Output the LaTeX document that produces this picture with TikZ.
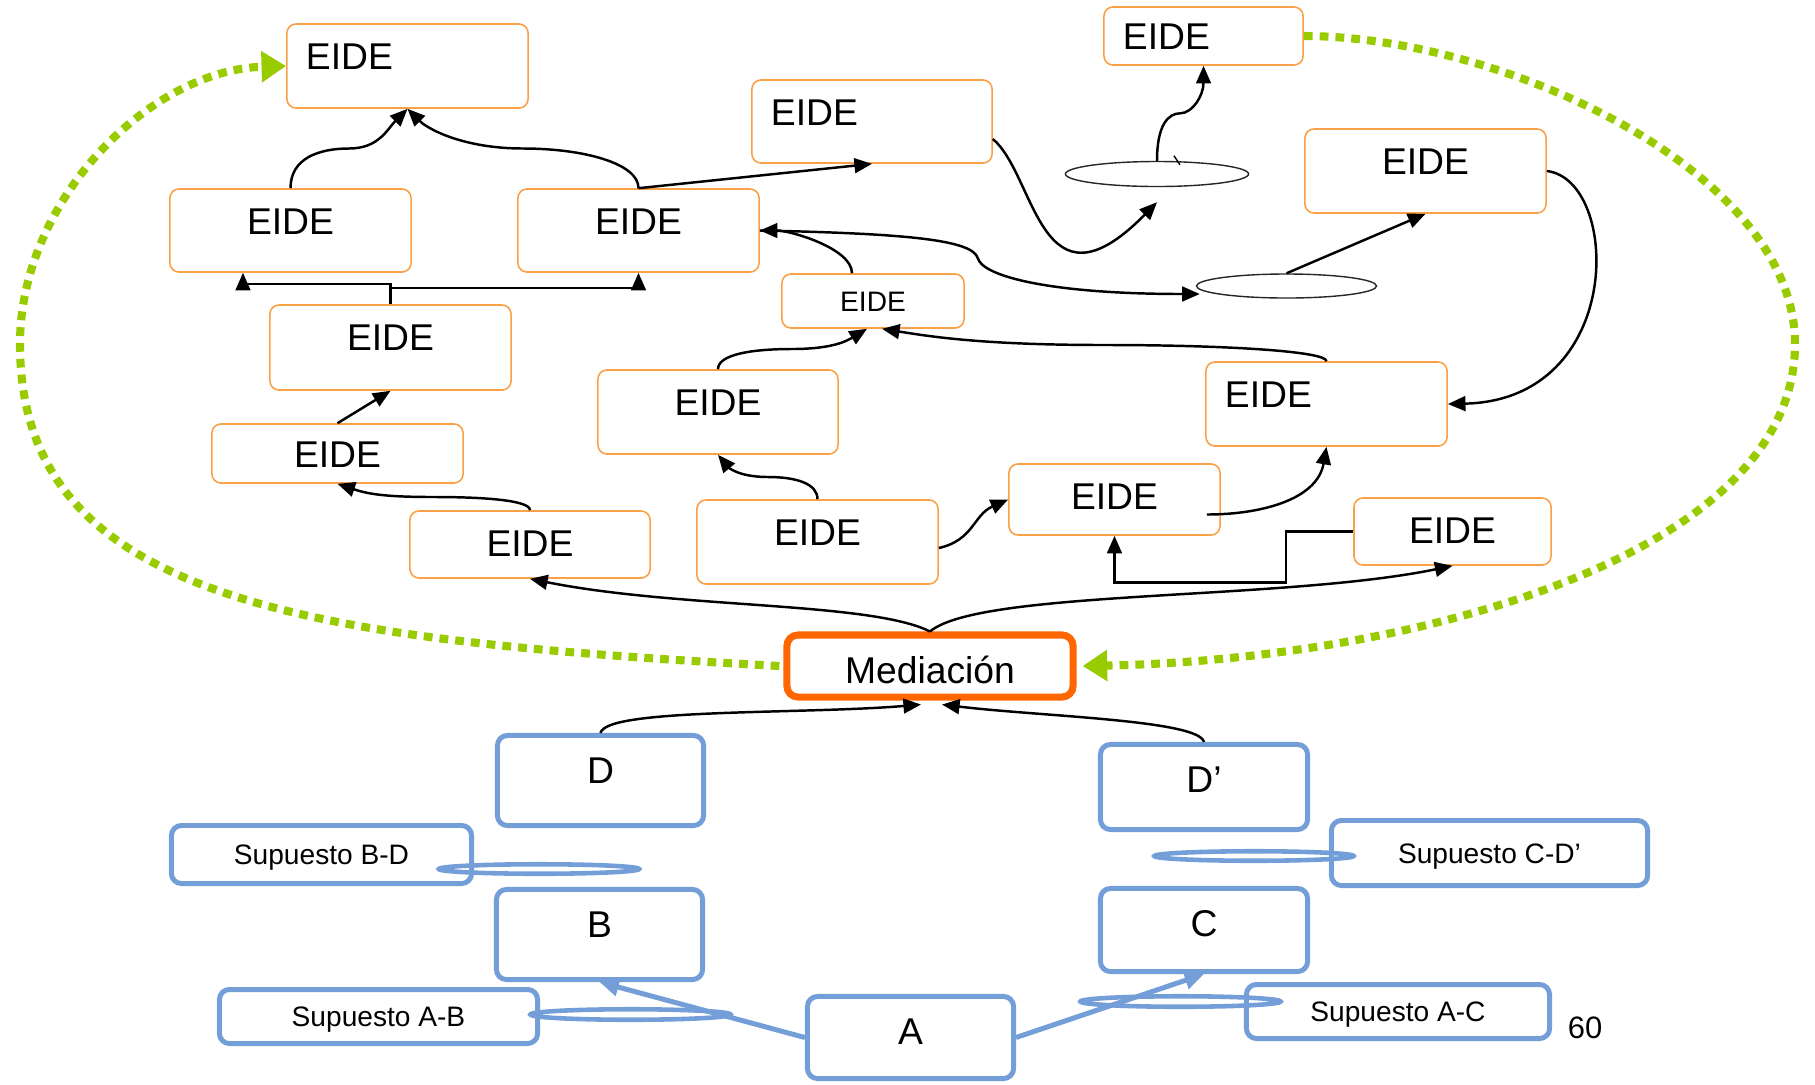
\documentclass[tikz,border=0pt]{standalone}
\usepackage{fontspec}
\setmainfont{Liberation Sans}
\usetikzlibrary{arrows.meta,shapes.geometric,calc}
\definecolor{naranja}{RGB}{250,160,70}
\definecolor{naranjafuerte}{RGB}{255,102,0}
\definecolor{azul}{RGB}{115,158,216}
\definecolor{verde}{RGB}{153,204,0}
\newcommand{\eidefont}{\fontsize{10.6}{12}\selectfont}
\newcommand{\supfont}{\fontsize{8}{10}\selectfont}

\begin{document}
\begin{tikzpicture}[x=0.01cm,y=-0.01cm,
    eide/.style n args={3}{draw=naranja, line width=0.45pt, rounded corners=0.9mm,
      minimum width=#1cm, minimum height=#2cm, inner xsep=0.19cm, text width={#1cm-0.38cm},
      align=#3, text height=0.27cm, text depth={max(#2cm-0.63cm,0cm)}, font=\eidefont},
    letra/.style 2 args={draw=azul, line width=1.42pt, rounded corners=1mm,
      minimum width=#1cm, minimum height=#2cm, text height=0.27cm,
      text depth={max(#2cm-0.69cm,0cm)}, font=\eidefont},
    supuesto/.style 2 args={draw=azul, line width=1.42pt, rounded corners=1mm,
      minimum width=#1cm, minimum height=#2cm, text height=0.2cm, text depth=0cm, font=\supfont},
    anillo/.style 2 args={ellipse, draw=azul, line width=1.3pt, inner sep=0pt,
      minimum width=#1cm, minimum height=#2cm},
    hueco/.style 2 args={ellipse, draw=black!85, line width=0.4pt, inner sep=0pt,
      minimum width=#1cm, minimum height=#2cm},
    medio/.style={draw=naranjafuerte, line width=2pt, rounded corners=1.1mm,
      minimum width=2.86cm, minimum height=0.62cm, text height=0.34cm, text depth=0cm, font=\eidefont},
    flecha/.style={line width=0.7pt, -{Triangle[length=5pt,width=4.2pt]}},
    azulflecha/.style={draw=azul, line width=1.42pt, -{Triangle[length=5.5pt,width=5pt]}},
    bucle/.style={draw=verde, line width=2.3pt, dash pattern=on 2.5pt off 2pt,
      -{Triangle[length=7pt,width=8.5pt]}}]
  \useasboundingbox (0,0) rectangle (1815,1084);
  \foreach \nm/\px/\py/\bw/\bh/\al in {t1/407.5/66/2.41/0.84/left, t2/872/121.5/2.40/0.83/left,
      t3/1203.5/36/1.99/0.58/left, l1/290.5/230.5/2.41/0.83/center, m1/638.5/230.5/2.41/0.83/center,
      t4/1425.5/171/2.41/0.84/center, l2/390.5/347.5/2.41/0.85/center, m2/718/412/2.40/0.84/center,
      m3/1326.5/404/2.41/0.84/left, l3/337.5/453.5/2.51/0.59/center, c2/1114.5/499.5/2.11/0.71/center,
      l4/530/544.5/2.40/0.67/center, c1/817.5/542/2.41/0.84/center, r1/1452.5/531.5/1.97/0.67/center}
    \node[eide={\bw}{\bh}{\al}] (\nm) at (\px,\py) {EIDE};
  \node[eide={1.82}{0.54}{center}, font=\supfont, text height=0.2cm] (s) at (873,301) {EIDE};
  \node[hueco={1.83}{0.25}] (e1) at (1157,174) {};
  \node[hueco={1.80}{0.24}] (e2) at (1286.5,286) {};
  \node[medio] (med) at (930,666) {Mediación};
  \foreach \nm/\px/\py/\bw/\bh/\txt in {d/600.5/780.5/2.06/0.90/D, b/599.5/934.5/2.06/0.90/B,
      dp/1204/787/2.07/0.85/D’, c/1204/930/2.07/0.83/C, a/910.5/1037.5/2.06/0.82/A}
    \node[letra={\bw}{\bh}] (\nm) at (\px,\py) {\txt};
  \foreach \nm/\px/\py/\bw/\bh/\txt in {sbd/321.5/854.5/3.00/0.58/Supuesto B-D,
      sab/378.5/1016.5/3.18/0.54/Supuesto A-B, scd/1489.5/853/3.16/0.65/Supuesto C-D’,
      sac/1398/1011.5/3.03/0.54/Supuesto A-C}
    \node[supuesto={\bw}{\bh}] (\nm) at (\px,\py) {\txt};
  \node[font=\fontsize{8.8}{10}\selectfont] (pag) at (1585,1028) {60};

  \draw[flecha] (l1.north) .. controls +(0,-30) and +(-30,0) .. ($(l1.north)!.5!(t1.south)$) .. controls +(30,0) and +(-20,20) .. (t1.south);
  \draw[flecha] (m1.north) .. controls +(0,-25) and +(60,0) .. ($(m1.north)!.5!(t1.south)$) .. controls +(-60,0) and +(20,20) .. (t1.south);
  \draw[flecha] (m1.north) -- (t2.south);
  \draw[flecha] (l2.north) -- ++(0,-20) -| ([xshift=-4.75mm]l1.south);
  \draw[flecha] (l2.north) -- ++(0,-16) -| (m1.south);
  \draw[flecha] (l3.north) -- (l2.south);
  \draw[flecha] (l4.north) .. controls +(0,-10) and +(50,0) .. ($(l4.north)!.5!(l3.south)$) .. controls +(-50,0) and +(30,10) .. (l3.south);
  \draw[flecha] (m2.north) .. controls +(0,-15) and +(-40,0) .. ($(m2.north)!.5!([xshift=-0.06cm]s.south)$) .. controls +(40,0) and +(-20,12) .. ([xshift=-0.06cm]s.south);
  \draw[flecha] (m3.north) .. controls +(0,-10) and +(120,0) .. ($(m3.north)!.5!([xshift=0.09cm]s.south)$) .. controls +(-120,0) and +(50,8) .. ([xshift=0.09cm]s.south);
  \draw[flecha] ([xshift=-0.21cm]s.north) .. controls +(0,-25) and +(30,0) .. (m1.east);
  \draw[flecha] (m1.east) .. controls +(150,3) and +(-5,-18) .. ($(m1.east)!.5!(e2.west)$) .. controls +(5,18) and +(-150,0) .. ($(e2.west)+(4,8)$);
  \draw[flecha] ([yshift=-1.75mm]t2.east) .. controls +(43,36) and +(-117,119) .. ($(e1.south)+(0,15)$);
  \draw[flecha] (e1.north) .. controls +(0,-36) and +(-12,0) .. ($(e1.north)!.5!(t3.south)$) .. controls +(12,0) and +(0,30) .. (t3.south);
  \draw[line width=0.4pt] ($(e1.north)+(17,-5)$) -- ++(6,9);
  \draw[flecha] (e2.north) -- (t4.south);
  \draw[flecha] (t4.east) .. controls +(74,9) and +(178,-4) .. (m3.east);
  \draw[flecha] (c1.north) .. controls +(0,-15) and +(30,0) .. ($(c1.north)!.5!(m2.south)$) .. controls +(-30,0) and +(10,12) .. (m2.south);
  \draw[flecha] ([yshift=-0.06cm]c1.east) .. controls +(35,-8) and +(-35,15.5) .. (c2.west);
  \draw[flecha] ($(c2.east)+(-14,15)$) to[out=0,in=-100] (m3.south);
  \draw[flecha] (r1.west) -| ++(-67,51) -| (c2.south);
  \draw[flecha] (med.north) .. controls +(-60,-30) and +(150,30) .. (l4.south);
  \draw[flecha] (med.north) .. controls +(50,-42) and +(-170,35) .. (r1.south);
  \draw[flecha] (d.north) .. controls +(5,-25) and +(-120,10) .. ($(med.south)+(-9,4)$);
  \draw[flecha] (dp.north) .. controls +(-5,-22) and +(100,12) .. ($(med.south)+(12,4)$);

  \draw[bucle] ([xshift=-0.04cm]med.west) .. controls (300,640) and (20,600) .. (20,344) .. controls (20,200) and (150,70) .. (t1.west);
  \draw[bucle] (t3.east) .. controls (1500,36) and (1795,170) .. (1795,344) .. controls (1795,560) and (1400,660) .. ([xshift=0.06cm]med.east);

  \draw[azulflecha] (a.west) -- (b.south);
  \draw[azulflecha] (a.east) -- (c.south);
  \foreach \nm/\px/\py/\bw/\bh in {obd/539/869/2.00/0.095, oab/630.5/1014.5/2.00/0.105,
      ocd/1254/856/1.99/0.095, oac/1180.5/1001.5/2.00/0.105}
    \node[anillo={\bw}{\bh}] (\nm) at (\px,\py) {};
\end{tikzpicture}
\end{document}
